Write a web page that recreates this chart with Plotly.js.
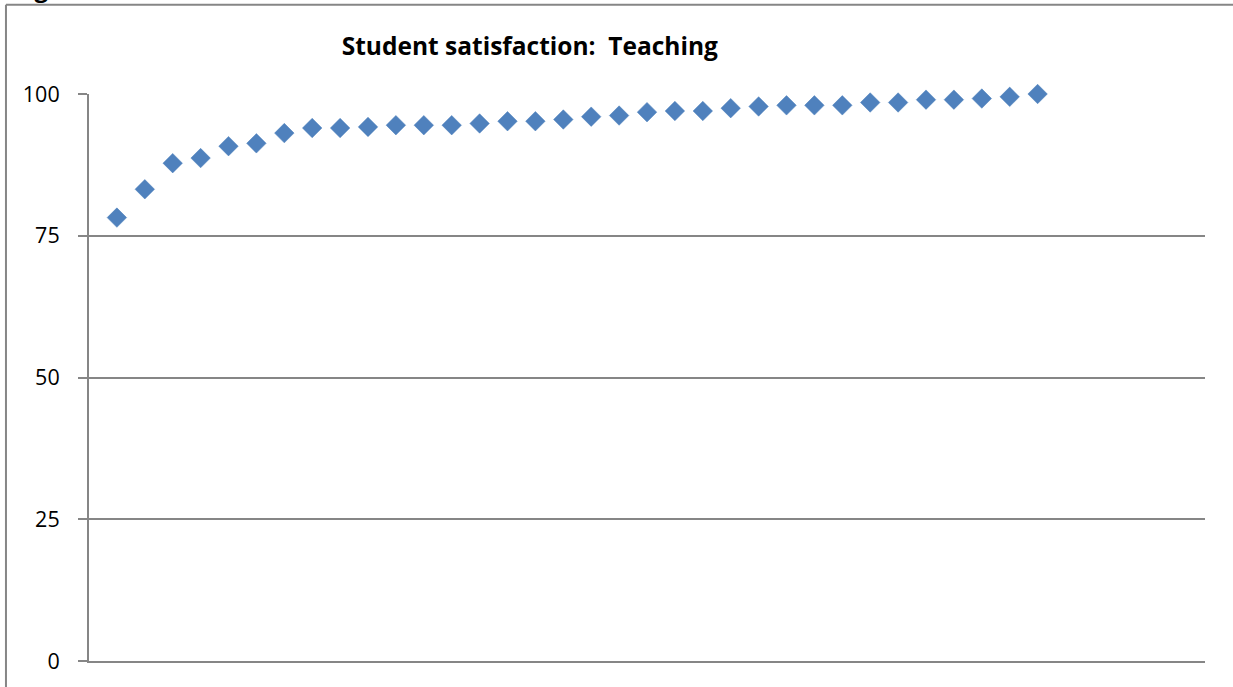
<!DOCTYPE html>
<html>
<head>
<meta charset="utf-8">
<script src="https://cdn.plot.ly/plotly-3.0.1.min.js"></script>
<style>
  html, body { margin: 0; padding: 0; background: #ffffff; }
  #chart { width: 1233px; height: 687px; }
</style>
</head>
<body>
<div id="chart"></div>
<script>
// Data
const chartTitle = "Student satisfaction:\u00a0 Teaching";
const institutionRank = [1,2,3,4,5,6,7,8,9,10,11,12,13,14,15,16,17,18,19,20,21,22,23,24,25,26,27,28,29,30,31,32,33,34];
const satisfaction = [78.2, 83.2, 87.8, 88.7, 90.8, 91.3, 93.1, 94.0, 94.0, 94.2,
                      94.5, 94.5, 94.5, 94.8, 95.2, 95.2, 95.5, 96.0, 96.2, 96.8,
                      97.0, 97.0, 97.5, 97.8, 98.0, 98.0, 98.0, 98.5, 98.5, 99.0,
                      99.0, 99.2, 99.5, 100.0];
const yTickValues = [0, 25, 50, 75, 100];

const gridGray = '#868686';

const trace = {
  type: 'scatter',
  mode: 'markers',
  x: institutionRank,
  y: satisfaction,
  cliponaxis: false,
  marker: {
    symbol: 'diamond',
    size: 15,
    color: '#4F81BD',
    line: { width: 0.5, color: '#4A7EBB' }
  },
  hoverinfo: 'x+y'
};

const layout = {
  width: 1233,
  height: 687,
  margin: { l: 89, r: 28, t: 94, b: 26, pad: 0 },
  paper_bgcolor: '#ffffff',
  plot_bgcolor: '#ffffff',
  showlegend: false,
  font: { family: 'Open Sans, sans-serif', color: '#000000' },
  title: {
    text: '<b>' + chartTitle + '</b>',
    font: { family: 'Open Sans, sans-serif', size: 24.5, color: '#000000' },
    x: 0.395, xanchor: 'center',
    y: 0.932, yanchor: 'middle',
    xref: 'paper', yref: 'container'
  },
  xaxis: {
    range: [0, 40],
    showgrid: false,
    zeroline: false,
    showline: true,
    linecolor: gridGray,
    linewidth: 2,
    ticks: '',
    showticklabels: false,
    fixedrange: true
  },
  yaxis: {
    range: [0, 100],
    tickvals: yTickValues,
    ticktext: yTickValues.map(String),
    showgrid: true,
    gridcolor: gridGray,
    gridwidth: 2,
    zeroline: false,
    showline: true,
    linecolor: gridGray,
    linewidth: 2,
    ticks: 'outside',
    ticklen: 9,
    tickwidth: 2,
    tickcolor: gridGray,
    ticklabelstandoff: 14,
    tickfont: { family: 'Open Sans, sans-serif', size: 21.5, color: '#000000' },
    fixedrange: true
  },
  shapes: [
    { type: 'line', xref: 'paper', yref: 'paper',
      x0: -0.0744, x1: -0.0744, y0: -0.2, y1: 1.1575,
      line: { color: gridGray, width: 2 } },
    { type: 'line', xref: 'paper', yref: 'paper',
      x0: -0.0744, x1: 1.1, y0: 1.1575, y1: 1.1575,
      line: { color: gridGray, width: 2 } }
  ],
  annotations: [
    { xref: 'paper', yref: 'paper', x: -0.069, y: 1.155,
      xanchor: 'left', yanchor: 'bottom', showarrow: false,
      text: '<b>Figure</b>',
      font: { family: 'Open Sans, sans-serif', size: 24, color: '#000000' } }
  ]
};

Plotly.newPlot('chart', [trace], layout, { displayModeBar: false, staticPlot: true });
</script>
</body>
</html>
